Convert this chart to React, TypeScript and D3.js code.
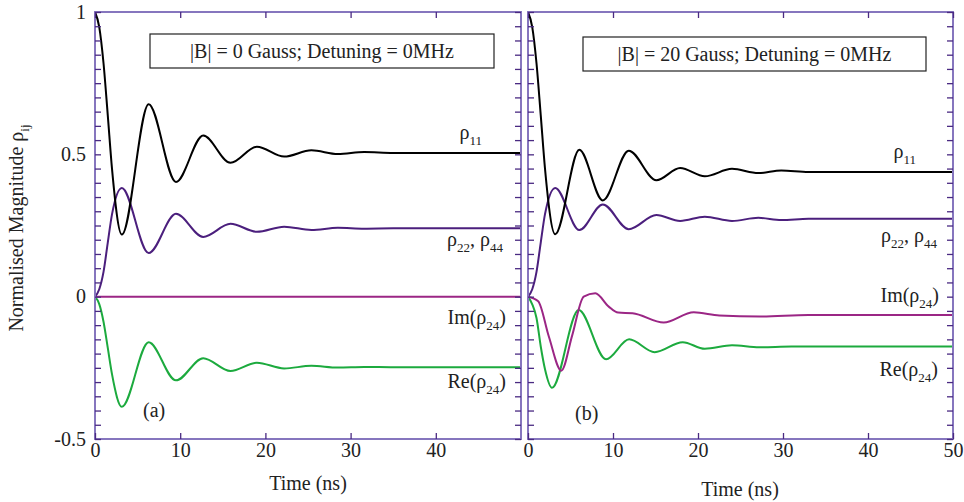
import React, { useEffect, useRef } from "react";
import * as d3 from "d3";

// panel (a): |B| = 0 Gauss, times (ns) near the turning points of the curves
const timeA = [0, 0.5, 1, 1.5, 2, 3.15, 6.3, 9.5, 12.7, 15.9, 19.0, 22.2, 25.4, 28.5, 31.6, 35, 40, 45, 50];
const rho11A = [1, 0.947, 0.82, 0.637, 0.448, 0.218, 0.676, 0.403, 0.566, 0.47, 0.527, 0.492, 0.514, 0.501, 0.508, 0.505, 0.505, 0.505, 0.505];
const rho22A = [0, 0.026, 0.087, 0.19, 0.29, 0.382, 0.153, 0.291, 0.21, 0.256, 0.228, 0.246, 0.234, 0.242, 0.239, 0.24, 0.24, 0.24, 0.24];
const imA = [0, 0, 0, 0, 0, 0, 0, 0, 0, 0, 0, 0, 0, 0, 0, 0, 0, 0, 0];
const reA = [0, -0.026, -0.088, -0.18, -0.273, -0.387, -0.16, -0.294, -0.216, -0.261, -0.232, -0.252, -0.243, -0.249, -0.247, -0.248, -0.248, -0.248, -0.248];

// panel (b): |B| = 20 Gauss
const timeB = [0, 0.5, 1, 1.5, 2, 3.2, 6.04, 8.8, 11.85, 15.1, 17.9, 20.8, 24.0, 27.1, 29.8, 33, 40, 50];
const rho11B = [1, 0.947, 0.82, 0.637, 0.45, 0.219, 0.516, 0.338, 0.513, 0.409, 0.452, 0.423, 0.449, 0.434, 0.443, 0.438, 0.438, 0.438];
const rho22B = [0, 0.026, 0.087, 0.19, 0.29, 0.382, 0.234, 0.324, 0.237, 0.287, 0.266, 0.281, 0.266, 0.277, 0.269, 0.274, 0.274, 0.274];
const timeImB = [0, 1.2, 2.45, 3.92, 5.2, 6.55, 7.92, 9.5, 10.6, 12.3, 15.96, 19.5, 22.5, 27.3, 33, 40, 50];
const imB = [0, -0.016, -0.14, -0.26, -0.136, 0, 0.012, -0.035, -0.056, -0.058, -0.091, -0.055, -0.066, -0.07, -0.064, -0.064, -0.064];
const timeReB = [0, 0.5, 1, 1.5, 2, 2.82, 5.96, 9.18, 11.9, 14.9, 18.2, 20.8, 24.0, 27.2, 31, 40, 50];
const reB = [0, -0.027, -0.075, -0.175, -0.255, -0.32, -0.047, -0.22, -0.15, -0.195, -0.16, -0.183, -0.171, -0.178, -0.175, -0.175, -0.175];

// ticks
const xTicksA = [0, 10, 20, 30, 40];
const xTicksB = [0, 10, 20, 30, 40, 50];
const yLabelTicks = [-0.5, 0, 0.5, 1];
const yMinorTicks = d3.range(-10, 21).map((i) => +(i * 0.05).toFixed(2));

type Part = [string, boolean];

const serif = "'Liberation Serif', 'Times New Roman', Times, serif";

export default function App() {
    const svgRef = useRef<SVGSVGElement>(null);

    useEffect(() => {
        const svg = d3.select(svgRef.current);
        svg.selectAll("*").remove();

        const width = 964;
        const height = 502;
        const top = 12;
        const bottom = 439;
        const frameColor = "#8676be";
        const tickColor = "#4a2a82";
        const fontSize = 20;

        svg.attr("width", width).attr("height", height);

        const y = d3.scaleLinear().domain([-0.5, 1]).range([bottom, top]);

        //text with subscripts
        const addText = (x: number, yy: number, parts: Part[], anchor = "end") => {
            const t = svg.append("text")
                .attr("x", x).attr("y", yy)
                .attr("text-anchor", anchor)
                .attr("font-family", serif)
                .attr("font-size", fontSize)
                .attr("fill", "#222");
            let low = false;
            parts.forEach(([s, sub]) => {
                const span = t.append("tspan").text(s);
                if (sub) {
                    span.attr("font-size", 13);
                    if (!low) { span.attr("dy", 6); low = true; }
                } else if (low) {
                    span.attr("dy", -6);
                    low = false;
                }
            });
            return t;
        };

        const panels = [
            {
                left: 95, right: 521, xTicks: xTicksA, showY: true,
                title: "|B| = 0 Gauss; Detuning = 0MHz", box: [150, 34, 344, 34],
                tag: "(a)", tagPos: [143, 417], xTitle: [308, 490],
                series: [
                    { t: timeA, v: reA, color: "#1caa3e" },
                    { t: timeA, v: imA, color: "#9b2685" },
                    { t: timeA, v: rho22A, color: "#4b1f7d" },
                    { t: timeA, v: rho11A, color: "#000000" },
                ],
                labels: [
                    { x: 482, y: 139, parts: [["ρ", false], ["11", true]] as Part[] },
                    { x: 503, y: 246, parts: [["ρ", false], ["22", true], [", ρ", false], ["44", true]] as Part[] },
                    { x: 506, y: 324, parts: [["Im(ρ", false], ["24", true], [")", false]] as Part[] },
                    { x: 506, y: 388, parts: [["Re(ρ", false], ["24", true], [")", false]] as Part[] },
                ],
            },
            {
                left: 528, right: 953, xTicks: xTicksB, showY: false,
                title: "|B| = 20 Gauss; Detuning = 0MHz", box: [583, 37, 343, 34],
                tag: "(b)", tagPos: [575, 420], xTitle: [740, 496],
                series: [
                    { t: timeReB, v: reB, color: "#1caa3e" },
                    { t: timeImB, v: imB, color: "#9b2685" },
                    { t: timeB, v: rho22B, color: "#4b1f7d" },
                    { t: timeB, v: rho11B, color: "#000000" },
                ],
                labels: [
                    { x: 916, y: 158, parts: [["ρ", false], ["11", true]] as Part[] },
                    { x: 937, y: 242, parts: [["ρ", false], ["22", true], [", ρ", false], ["44", true]] as Part[] },
                    { x: 939, y: 302, parts: [["Im(ρ", false], ["24", true], [")", false]] as Part[] },
                    { x: 938, y: 376, parts: [["Re(ρ", false], ["24", true], [")", false]] as Part[] },
                ],
            },
        ];

        panels.forEach((p) => {
            const x = d3.scaleLinear().domain([0, 50]).range([p.left, p.right]);

            //curves
            const line = d3.line<[number, number]>()
                .x((d) => x(d[0]))
                .y((d) => y(d[1]))
                .curve(d3.curveMonotoneX);
            p.series.forEach((s) => {
                svg.append("path")
                    .datum(d3.zip(s.t, s.v) as [number, number][])
                    .attr("fill", "none")
                    .attr("stroke", s.color)
                    .attr("stroke-width", 2)
                    .attr("d", line);
            });

            //frame
            svg.append("rect")
                .attr("x", p.left).attr("y", top)
                .attr("width", p.right - p.left).attr("height", bottom - top)
                .attr("fill", "none")
                .attr("stroke", frameColor)
                .attr("stroke-width", 2);

            const fmtY = (d: d3.NumberValue) => {
                const r = Math.round(+d * 100) / 100;
                return p.showY && yLabelTicks.includes(r) ? String(r) : "";
            };

            const axes = [
                svg.append("g").attr("transform", `translate(${p.left},0)`)
                    .call(d3.axisLeft(y).tickValues(yMinorTicks).tickSize(-6).tickPadding(9).tickFormat(fmtY)),
                svg.append("g").attr("transform", `translate(${p.right},0)`)
                    .call(d3.axisRight(y).tickValues(yMinorTicks).tickSize(-6).tickFormat(() => "")),
                svg.append("g").attr("transform", `translate(0,${bottom})`)
                    .call(d3.axisBottom(x).tickValues(p.xTicks).tickSize(-6).tickPadding(4).tickFormat(d3.format("d"))),
                svg.append("g").attr("transform", `translate(0,${top})`)
                    .call(d3.axisTop(x).tickValues(p.xTicks).tickSize(-6).tickFormat(() => "")),
            ];
            axes.forEach((a) => {
                a.select(".domain").remove();
                a.attr("font-family", serif).attr("font-size", fontSize);
                a.selectAll(".tick line").attr("stroke", tickColor).attr("stroke-width", 1.3);
                a.selectAll(".tick text").attr("fill", "#222").attr("font-family", serif);
            });
            axes[0].selectAll(".tick text").attr("dy", "0.3em");

            //legend box
            const [bx, by, bw, bh] = p.box;
            svg.append("rect")
                .attr("x", bx).attr("y", by).attr("width", bw).attr("height", bh)
                .attr("fill", "white").attr("stroke", "#222").attr("stroke-width", 1.2);
            svg.append("text")
                .attr("x", bx + bw / 2).attr("y", by + bh / 2 + 7)
                .attr("text-anchor", "middle")
                .attr("font-family", serif)
                .attr("font-size", fontSize)
                .attr("fill", "#222")
                .text(p.title);

            //curve names
            p.labels.forEach((l) => addText(l.x, l.y, l.parts));

            //panel tag
            svg.append("text")
                .attr("x", p.tagPos[0]).attr("y", p.tagPos[1])
                .attr("font-family", serif)
                .attr("font-size", fontSize)
                .attr("fill", "#222")
                .text(p.tag);

            //x-axis title
            svg.append("text")
                .attr("x", p.xTitle[0]).attr("y", p.xTitle[1])
                .attr("text-anchor", "middle")
                .attr("font-family", serif)
                .attr("font-size", fontSize)
                .attr("fill", "#222")
                .text("Time (ns)");
        });

        //y-axis title
        const yt = svg.append("text")
            .attr("transform", "translate(23,228) rotate(-90)")
            .attr("text-anchor", "middle")
            .attr("font-family", serif)
            .attr("font-size", fontSize)
            .attr("fill", "#222");
        yt.append("tspan").text("Normalised Magnitude ρ");
        yt.append("tspan").attr("font-size", 13).attr("dy", 6).text("ij");
    }, []);

    return (
        <div style={{ position: "absolute", left: 0, top: 0 }}>
            <svg ref={svgRef}></svg>
        </div>
    );
}
